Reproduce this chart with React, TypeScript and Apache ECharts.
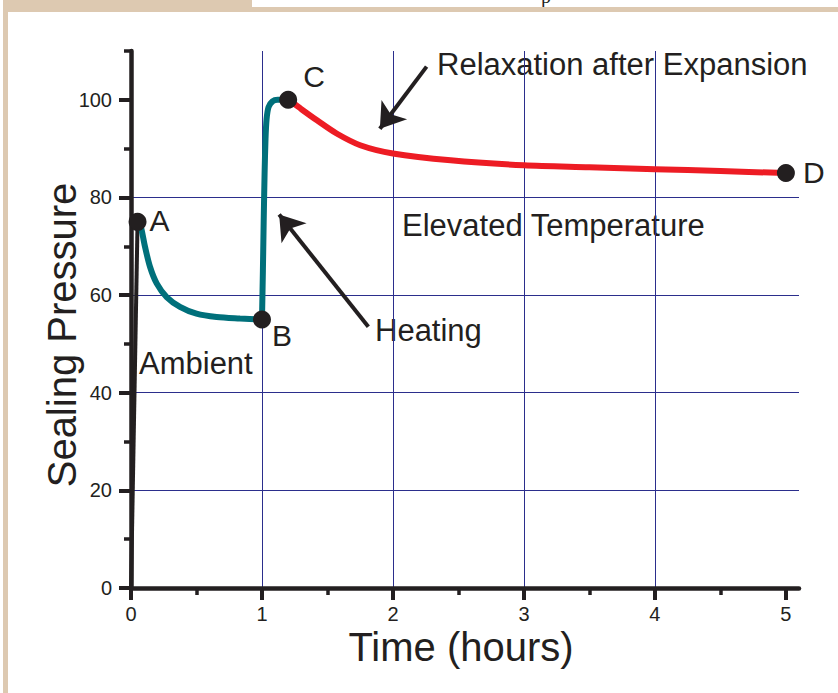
import React, { useEffect, useRef } from "react";
import * as echarts from "echarts";

const FONT = '"Liberation Sans", Arial, Helvetica, sans-serif';
const INK = "#231f20";
const TEAL = "#00707b";
const RED = "#ed1c24";
const GRID = "#2b2e8c";
const TAN = "#ddc9b1";

// tick values
const xMajorTicks = [0, 1, 2, 3, 4, 5];
const xMinorTicks = [0.5, 1.5, 2.5, 3.5, 4.5];
const yMajorTicks = [0, 20, 40, 60, 80, 100];
const yMinorTicks = [10, 30, 50, 70, 90, 110];

// curves [time (hours), sealing pressure]
const loadingCurve = [
  [0, 0],
  [0.05, 75],
];
const ambientCurve = [
  [0.05, 75],
  [0.069, 74.7],
  [0.107, 69.9],
  [0.145, 65.8],
  [0.196, 62.4],
  [0.272, 59.6],
  [0.374, 57.6],
  [0.5, 56.2],
  [0.654, 55.5],
  [0.832, 55.2],
  [1.0, 55],
];
const heatingCurve = [
  [1.0, 55],
  [1.007, 65],
  [1.013, 75],
  [1.02, 85],
  [1.027, 92],
  [1.035, 96],
  [1.05, 98.5],
  [1.08, 99.7],
  [1.12, 100],
  [1.2, 100],
];
const relaxationCurve = [
  [1.2, 100],
  [1.24, 99.3],
  [1.3, 98.1],
  [1.42, 95.8],
  [1.57, 93.1],
  [1.75, 90.7],
  [2.0, 89.0],
  [2.44, 87.6],
  [3.0, 86.6],
  [3.5, 86.2],
  [4.0, 85.8],
  [4.5, 85.4],
  [5.0, 85.0],
];

const keyPoints = [
  [0.05, 75],
  [1.0, 55],
  [1.2, 100],
  [5.0, 85],
];
const keyPointNames = ["A", "B", "C", "D"];

// annotation arrows: [from, to] in data coordinates
const relaxationArrow = [
  [2.257, 106.8],
  [1.9, 94.08],
];
const heatingArrow = [
  [1.812, 53.5],
  [1.131, 76.53],
];

const labelPlacement: Record<string, { distance: number; offset: number[] }> = {
  A: { distance: 3, offset: [0, -1.5] },
  B: { distance: 1, offset: [0, 15.5] },
  C: { distance: 6, offset: [0, -23] },
  D: { distance: 8, offset: [0, -1] },
};

export default function App() {
  const ref = useRef<HTMLDivElement>(null);

  useEffect(() => {
    document.body.style.margin = "0";
    const chart = echarts.init(ref.current!, null, { renderer: "svg" });

    const axisBase = {
      type: "value",
      min: 0,
    };

    const phrase = (text: string, x: number, y: number, size = 31) => ({
      type: "text",
      x,
      y,
      silent: true,
      style: {
        text,
        fill: INK,
        fontSize: size,
        fontFamily: FONT,
        align: "left",
        verticalAlign: "middle",
      },
    });

    const option: any = {
      animation: false,
      backgroundColor: "#ffffff",
      grid: { left: 131, right: 39, top: 51, bottom: 105, containLabel: false },
      xAxis: [
        {
          ...axisBase,
          max: 5.1,
          interval: 1,
          axisLine: { show: true, lineStyle: { color: INK, width: 4.5 } },
          axisTick: {
            show: true,
            customValues: xMajorTicks,
            length: 12,
            lineStyle: { color: INK, width: 4 },
          },
          axisLabel: {
            show: true,
            customValues: xMajorTicks,
            color: INK,
            fontSize: 20,
            fontFamily: FONT,
            margin: 16,
          },
          splitLine: {
            show: true,
            showMinLine: false,
            showMaxLine: false,
            lineStyle: { color: GRID, width: 1 },
          },
        },
        {
          ...axisBase,
          max: 5.1,
          interval: 0.5,
          position: "bottom",
          axisLine: { show: false },
          axisTick: {
            show: true,
            customValues: xMinorTicks,
            length: 7,
            lineStyle: { color: INK, width: 3.5 },
          },
          axisLabel: { show: false },
          splitLine: { show: false },
        },
      ],
      yAxis: [
        {
          ...axisBase,
          max: 110,
          interval: 20,
          position: "left",
          axisLine: { show: true, lineStyle: { color: INK, width: 4.5 } },
          axisTick: {
            show: true,
            customValues: yMajorTicks,
            length: 12,
            lineStyle: { color: INK, width: 4 },
          },
          axisLabel: {
            show: true,
            customValues: yMajorTicks,
            color: INK,
            fontSize: 20,
            fontFamily: FONT,
            margin: 19,
          },
          splitLine: {
            show: true,
            showMinLine: false,
            showMaxLine: false,
            lineStyle: { color: GRID, width: 1 },
          },
        },
        {
          ...axisBase,
          max: 110,
          interval: 10,
          position: "left",
          axisLine: { show: false },
          axisTick: {
            show: true,
            customValues: yMinorTicks,
            length: 7,
            lineStyle: { color: INK, width: 3.5 },
          },
          axisLabel: { show: false },
          splitLine: { show: false },
        },
      ],
      series: [
        {
          type: "line",
          data: loadingCurve,
          symbol: "none",
          lineStyle: { color: INK, width: 4 },
          z: 3,
          silent: true,
        },
        {
          type: "line",
          data: ambientCurve,
          symbol: "none",
          smooth: 0.3,
          lineStyle: { color: TEAL, width: 6 },
          z: 3,
          silent: true,
        },
        {
          type: "line",
          data: heatingCurve,
          symbol: "none",
          smooth: 0.3,
          lineStyle: { color: TEAL, width: 6 },
          z: 3,
          silent: true,
        },
        {
          type: "line",
          data: relaxationCurve,
          symbol: "none",
          smooth: 0.3,
          lineStyle: { color: RED, width: 6 },
          z: 3,
          silent: true,
          markLine: {
            silent: true,
            animation: false,
            symbol: ["none", "arrow"],
            symbolSize: 24,
            label: { show: false },
            itemStyle: { color: INK, opacity: 1 },
            lineStyle: { color: INK, width: 4, type: "solid", opacity: 1 },
            emphasis: { disabled: true },
            data: [
              [{ coord: relaxationArrow[0] }, { coord: relaxationArrow[1] }],
              [{ coord: heatingArrow[0] }, { coord: heatingArrow[1] }],
            ],
          },
        },
        {
          type: "scatter",
          symbolSize: 18,
          itemStyle: { color: INK, opacity: 1 },
          z: 5,
          silent: true,
          data: keyPoints.map((p, i) => {
            const name = keyPointNames[i];
            const place = labelPlacement[name];
            return {
              value: p,
              name,
              label: {
                show: true,
                formatter: name,
                position: "right",
                distance: place.distance,
                offset: place.offset,
                color: INK,
                opacity: 1,
                fontSize: 30,
                fontFamily: FONT,
              },
            };
          }),
        },
      ],
      graphic: [
        // page frame
        { type: "rect", shape: { x: 3, y: 0, width: 249, height: 12 }, style: { fill: TAN }, silent: true },
        { type: "rect", shape: { x: 252, y: 7, width: 586, height: 5 }, style: { fill: TAN }, silent: true },
        { type: "rect", shape: { x: 3, y: 12, width: 5, height: 681 }, style: { fill: TAN }, silent: true },
        {
          type: "text",
          x: 541,
          y: 6,
          silent: true,
          z: -1,
          style: {
            text: "p",
            fill: INK,
            fontSize: 20,
            fontFamily: '"Liberation Serif", "DejaVu Serif", serif',
            align: "left",
            verticalAlign: "bottom",
          },
        },
        // axis titles
        {
          type: "text",
          x: 62,
          y: 335,
          rotation: Math.PI / 2,
          silent: true,
          style: {
            text: "Sealing Pressure",
            fill: INK,
            fontSize: 40,
            fontFamily: FONT,
            align: "center",
            verticalAlign: "middle",
          },
        },
        {
          type: "text",
          x: 461,
          y: 647,
          silent: true,
          style: {
            text: "Time (hours)",
            fill: INK,
            fontSize: 40,
            fontFamily: FONT,
            align: "center",
            verticalAlign: "middle",
          },
        },
        // annotations
        phrase("Relaxation after Expansion", 437, 64.5),
        phrase("Elevated Temperature", 402, 225.5),
        phrase("Heating", 375, 330.5),
        phrase("Ambient", 139, 363.5),
      ],
    };

    chart.setOption(option);
    return () => chart.dispose();
  }, []);

  return (
    <div
      ref={ref}
      style={{ position: "absolute", left: 0, top: 0, width: 838, height: 693 }}
    />
  );
}
